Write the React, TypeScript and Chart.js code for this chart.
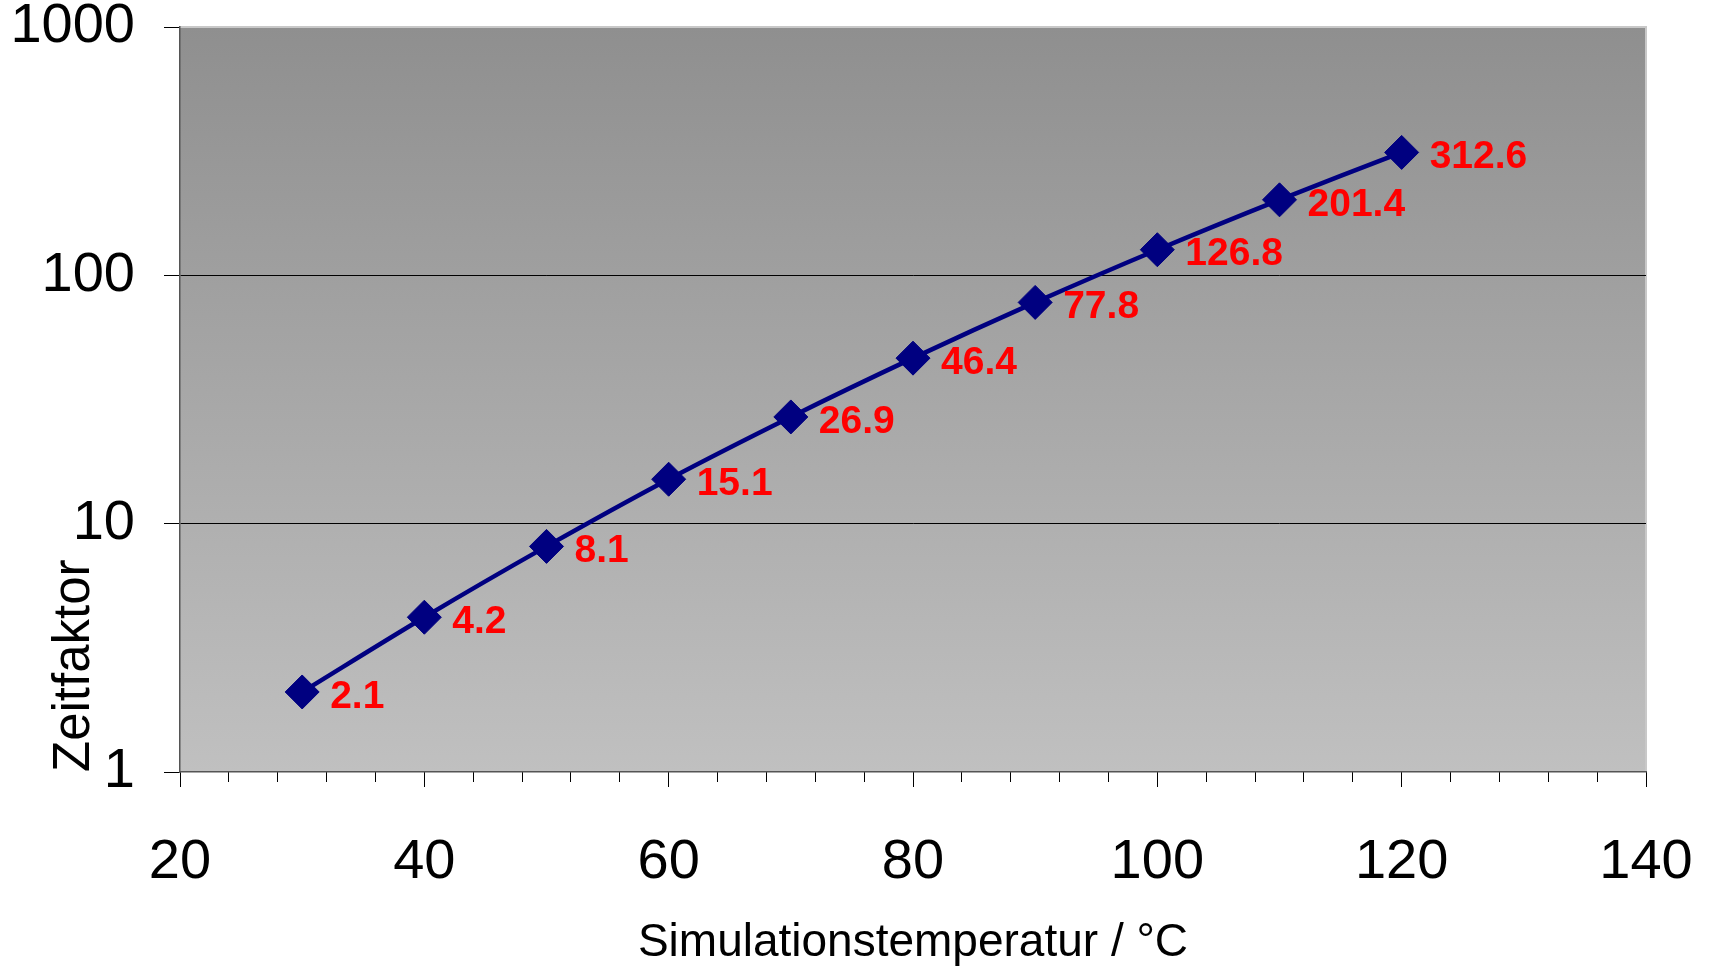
import React, { useEffect, useRef } from 'react';
import { Chart, registerables } from 'chart.js';

Chart.register(...registerables);

// ---- data ----
const temperatures = [30, 40, 50, 60, 70, 80, 90, 100, 110, 120];
const timeFactors = [2.1, 4.2, 8.1, 15.1, 26.9, 46.4, 77.8, 126.8, 201.4, 312.6];
const pointLabels = ['2.1', '4.2', '8.1', '15.1', '26.9', '46.4', '77.8', '126.8', '201.4', '312.6'];
const yTickValues = [1, 10, 100, 1000];
const yGridValues = [10, 100];
const xMin = 20;
const xMax = 140;
const xMajorStep = 20;
const xMinorStep = 4;
const xTitle = 'Simulationstemperatur / °C';
const yTitle = 'Zeitfaktor';

const FONT = "'Liberation Sans', Arial, Helvetica, sans-serif";
const W = 1712;
const H = 968;
const PLOT_TOP = 27;
const PLOT_BOTTOM = 772;
const PLOT_LEFT = 180;
const PLOT_RIGHT = 1646;

const plotBackground = {
  id: 'plotBackground',
  beforeDraw(chart: any) {
    const { ctx, chartArea: a } = chart;
    ctx.save();
    const g = ctx.createLinearGradient(0, a.top, 0, a.bottom);
    g.addColorStop(0, '#8f8f8f');
    g.addColorStop(1, '#c0c0c0');
    ctx.fillStyle = g;
    ctx.fillRect(a.left, a.top, a.right - a.left, a.bottom - a.top);
    ctx.strokeStyle = '#c8c8c8';
    ctx.lineWidth = 2;
    ctx.beginPath();
    ctx.moveTo(a.left, a.top);
    ctx.lineTo(a.right, a.top);
    ctx.lineTo(a.right, a.bottom);
    ctx.stroke();
    ctx.restore();
  },
};

const valueLabels = {
  id: 'valueLabels',
  afterDatasetsDraw(chart: any) {
    const { ctx } = chart;
    const meta = chart.getDatasetMeta(0);
    ctx.save();
    ctx.font = `bold 39px ${FONT}`;
    ctx.fillStyle = '#ff0000';
    ctx.textAlign = 'left';
    ctx.textBaseline = 'middle';
    meta.data.forEach((pt: any, i: number) => {
      ctx.fillText(pointLabels[i], pt.x + 28, pt.y + 5);
    });
    ctx.restore();
  },
};

export default function App() {
  const ref = useRef<HTMLCanvasElement | null>(null);

  useEffect(() => {
    if (!ref.current) return;
    const chart = new Chart(ref.current, {
      type: 'line',
      data: {
        datasets: [
          {
            data: temperatures.map((t, i) => ({ x: t, y: timeFactors[i] })),
            borderColor: '#000080',
            backgroundColor: '#000080',
            borderWidth: 4.5,
            pointStyle: 'rectRot',
            pointRadius: 17,
            pointBackgroundColor: '#000080',
            pointBorderColor: '#000080',
            pointBorderWidth: 1,
            tension: 0.33,
            fill: false,
          },
        ],
      },
      options: {
        animation: false,
        responsive: false,
        devicePixelRatio: 1,
        layout: { padding: { top: PLOT_TOP, right: W - PLOT_RIGHT, bottom: 0, left: 0 } },
        plugins: {
          legend: { display: false },
          tooltip: { enabled: false },
        },
        scales: {
          x: {
            type: 'linear',
            position: 'bottom',
            min: xMin,
            max: xMax,
            ticks: {
              stepSize: xMajorStep,
              color: '#000',
              font: { family: FONT, size: 56 },
              padding: 42,
              maxRotation: 0,
              callback: (v: any) => String(v),
            },
            grid: {
              drawOnChartArea: false,
              tickLength: 15,
              tickColor: '#000',
              tickWidth: 1,
            },
            border: { color: '#555', width: 1.5 },
            title: {
              display: true,
              text: xTitle,
              color: '#000',
              font: { family: FONT, size: 46 },
              padding: { top: 0, bottom: -3 },
            },
            afterFit: (s: any) => {
              s.height = H - PLOT_BOTTOM;
              s.paddingLeft = 0;
              s.paddingRight = 0;
            },
          },
          xMinor: {
            type: 'linear',
            axis: 'x',
            position: { y: 1 },
            min: xMin,
            max: xMax,
            ticks: { stepSize: xMinorStep, display: false },
            grid: {
              drawOnChartArea: false,
              tickLength: 10,
              tickColor: '#000',
              tickWidth: 1,
            },
            border: { display: false },
            afterFit: (s: any) => {
              s.paddingLeft = 0;
              s.paddingRight = 0;
            },
          },
          y: {
            type: 'logarithmic',
            position: 'left',
            min: 1,
            max: 1000,
            afterBuildTicks: (s: any) => {
              s.ticks = yTickValues.map((v) => ({ value: v }));
            },
            ticks: {
              color: '#000',
              font: { family: FONT, size: 56 },
              padding: 29,
              callback: (v: any) => String(v),
            },
            grid: {
              color: (c: any) =>
                c.tick && yGridValues.includes(c.tick.value) ? '#000' : 'rgba(0,0,0,0)',
              lineWidth: 1,
              tickLength: 16,
              tickColor: '#000',
              tickWidth: 1,
            },
            border: { color: '#555', width: 1.5 },
            title: {
              display: true,
              text: yTitle,
              align: 'start',
              color: '#000',
              font: { family: FONT, size: 51 },
              padding: { top: 44, bottom: 0 },
            },
            afterFit: (s: any) => {
              s.width = PLOT_LEFT;
              s.paddingTop = 0;
              s.paddingBottom = 0;
            },
          },
        },
      } as any,
      plugins: [plotBackground, valueLabels],
    });
    return () => chart.destroy();
  }, []);

  return (
    <div style={{ position: 'absolute', left: 0, top: 0, width: W, height: H, background: '#fff' }}>
      <canvas ref={ref} width={W} height={H} style={{ display: 'block', width: W, height: H }} />
    </div>
  );
}
